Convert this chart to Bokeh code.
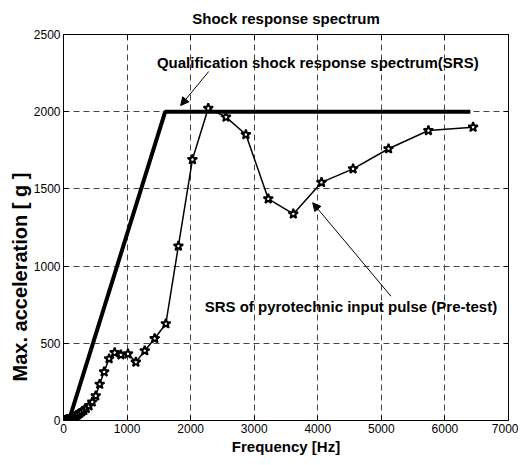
from bokeh.plotting import figure
from bokeh.models import Range1d, LinearAxis, FixedTicker, Label, Arrow, NormalHead, Title
from bokeh.embed import file_html
from bokeh.resources import INLINE

# ---- data ----
x_ticks = [0, 1000, 2000, 3000, 4000, 5000, 6000, 7000]
y_ticks = [0, 500, 1000, 1500, 2000, 2500]

qual_freq = [0, 100, 1600, 6400]
qual_acc = [0, 20, 2000, 2000]

srs_freq = [20, 22, 25, 28, 32, 35, 40, 45, 50, 56, 63, 71, 80, 89, 100, 113, 127, 142,
            160, 179, 201, 226, 253, 284, 319, 358, 402, 452, 507, 569, 639, 717, 805,
            903, 1014, 1138, 1278, 1434, 1610, 1807, 2028, 2277, 2556, 2869, 3221, 3615,
            4058, 4555, 5113, 5740, 6443]
srs_acc = [1, 1, 1, 2, 2, 2, 3, 3, 4, 4, 5, 6, 7, 8, 10, 12, 15, 18,
           22, 26, 32, 38, 46, 55, 65, 78, 95, 120, 160, 235, 315, 400, 440,
           425, 432, 378, 452, 531, 627, 1130, 1690, 2022, 1965, 1852, 1436, 1338,
           1542, 1630, 1760, 1878, 1900]

FONT = "Liberation Sans"

p = figure(frame_width=445, frame_height=386,
           x_range=Range1d(0, 7000), y_range=Range1d(0, 2500),
           output_backend="svg", toolbar_location=None,
           min_border_left=63, min_border_right=10, min_border_top=33, min_border_bottom=36,
           title="Shock response spectrum")
p.background_fill_color = "white"
p.border_fill_color = "white"
p.outline_line_color = "black"
p.outline_line_width = 1

p.title.align = "center"
p.title.text_font = FONT
p.title.text_font_size = "15px"
p.title.text_font_style = "bold"
p.title.text_color = "black"
p.title.standoff = 15

for ax, ticks in ((p.xaxis[0], x_ticks), (p.yaxis[0], y_ticks)):
    ax.ticker = FixedTicker(ticks=ticks)
    ax.major_tick_in = 5
    ax.major_tick_out = 0
    ax.minor_tick_in = 0
    ax.minor_tick_out = 0
    ax.major_label_text_font = FONT
    ax.major_label_text_font_size = "12px"
    ax.major_label_text_color = "black"
    ax.axis_line_color = "black"
    ax.major_tick_line_color = "black"
    ax.major_label_standoff = 3

p.xaxis.axis_label = "Frequency [Hz]"
p.xaxis.axis_label_text_font = FONT
p.xaxis.axis_label_text_font_size = "15px"
p.xaxis.axis_label_text_font_style = "bold"
p.xaxis.axis_label_text_color = "black"
p.xaxis.axis_label_standoff = 2

# extra axes on top and right with inward ticks only
for loc, ticks in (("above", x_ticks), ("right", y_ticks)):
    ax = LinearAxis(ticker=FixedTicker(ticks=ticks), major_tick_in=5, major_tick_out=0,
                    minor_tick_in=0, minor_tick_out=0, major_label_text_font_size="0px",
                    major_label_standoff=0, axis_line_color="black", major_tick_line_color="black")
    p.add_layout(ax, loc)

for g, ticks in ((p.xgrid[0], x_ticks), (p.ygrid[0], y_ticks)):
    g.ticker = FixedTicker(ticks=ticks)
    g.grid_line_color = "#444444"
    g.grid_line_dash = "6 4"
    g.grid_line_width = 1

# y label as a side title, shifted below centre like the reference
ylab = Title(text="Max. acceleration [ g ]", align="left", offset=39, standoff=0,
             text_font=FONT, text_font_size="20px", text_font_style="bold", text_color="black")
p.add_layout(ylab, "left")

# series
p.line(qual_freq, qual_acc, line_color="black", line_width=4)
p.line(srs_freq, srs_acc, line_color="black", line_width=1.5)
p.scatter(srs_freq, srs_acc, marker="star", size=10, line_color="black", line_width=2,
          fill_color="white")

# annotations
p.add_layout(Label(x=1470, y=2320, text="Qualification shock response spectrum(SRS)",
                   text_align="left", text_baseline="middle", text_font=FONT,
                   text_font_size="15px", text_font_style="bold", text_color="black"))
p.add_layout(Arrow(x_start=2284, y_start=2260, x_end=1843, y_end=2040, line_width=1,
                   end=NormalHead(size=8, fill_color="black", line_color="black")))
p.add_layout(Label(x=2220, y=740, text="SRS of pyrotechnic input pulse (Pre-test)",
                   text_align="left", text_baseline="middle", text_font=FONT,
                   text_font_size="15px", text_font_style="bold", text_color="black"))
p.add_layout(Arrow(x_start=5151, y_start=805, x_end=3920, y_end=1410, line_width=1,
                   end=NormalHead(size=8, fill_color="black", line_color="black")))

open("out.html", "w").write(file_html(p, INLINE))
